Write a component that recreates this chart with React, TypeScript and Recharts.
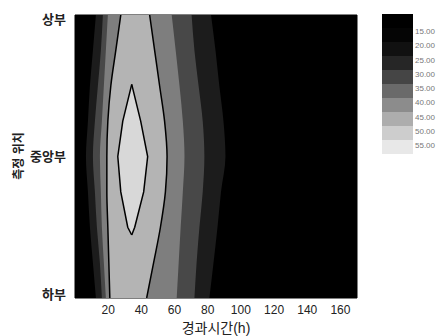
import React from 'react';
import { ComposedChart, Area, XAxis, YAxis, CartesianGrid } from 'recharts';

// measurement position (0 = bottom, 2 = top), rows from top to bottom
const POS = [2, 1.75, 1.5, 1.25, 1, 0.75, 0.5, 0.25, 0];
const POS_TICKS = [0, 1, 2];
const POS_LABELS = ['하부', '중앙부', '상부'];
const TIME_TICKS = [20, 40, 60, 80, 100, 120, 140, 160];

// contour band edges (elapsed time, h) per row
const BAND20_L = [12.6, 10.8, 9.0, 7.8, 6.6, 7.8, 9.0, 10.8, 12.6];
const BAND20_R = [82, 84.7, 87, 89.5, 90.7, 88, 85.9, 83.5, 81];
const BAND25_L = [16.8, 15.6, 13.8, 12.0, 10.8, 12.0, 13.2, 15.0, 16.2];
const BAND25_R = [70.3, 72, 74.5, 77, 78, 77, 75, 73.3, 72];
const BAND35_L = [19.8, 18.6, 17.4, 16.2, 15.0, 15.6, 16.2, 17.4, 18.6];
const BAND35_R = [58.3, 60.7, 63, 65, 66, 65, 63.7, 62.5, 61.3];
const BAND45_L = [27.6, 24.6, 21.6, 19.8, 19.2, 19.2, 19.8, 20.4, 21];
const BAND45_R = [45, 48, 51, 54, 55.5, 54.5, 51.5, 47.4, 43.2];

// inner (hottest) contour
const CORE_POS = [1.51, 1.25, 1.0, 0.75, 0.5, 0.445];
const CORE_L = [34.2, 28.8, 25.8, 27.6, 31.8, 34.2];
const CORE_R = [34.2, 39.6, 43.8, 41.4, 36, 34.2];

// colour bar
const LEGEND_VALUES = ['15.00', '20.00', '25.00', '30.00', '35.00', '40.00', '45.00', '50.00', '55.00'];
const LEGEND_COLORS = ['#000', '#050505', '#111', '#262626', '#454545', '#6a6a6a', '#8c8c8c', '#adadad', '#cdcdcd', '#e8e8e8'];

const band = (ls: number[], rs: number[], ps: number[] = POS) =>
  ps.map((p, i) => ({ pos: p, v: [ls[i], rs[i]] }));

const FONT = '"Liberation Sans", "Noto Sans CJK KR", sans-serif';

const YLabel = () => (
  <text
    transform="translate(19,156) rotate(-90)"
    textAnchor="middle"
    dominantBaseline="central"
    fontSize={12}
    fontWeight="bold"
    fill="#222"
    fontFamily={FONT}
  >
    측정 위치
  </text>
);

// nudge the end labels slightly inward like the original
const PosTick = (props: any) => {
  const { x, y, payload } = props;
  const v = payload.value;
  const dy = v === 2 ? 4 : v === 0 ? -4 : 0;
  return (
    <text x={x} y={y + dy} textAnchor="end" dominantBaseline="central" fontSize={13} fontWeight="bold" fill="#222" fontFamily={FONT}>
      {POS_LABELS[POS_TICKS.indexOf(v)]}
    </text>
  );
};

export default function App() {
  return (
    <div style={{ position: 'absolute', left: 0, top: 0, width: 439, height: 336, background: '#fff' }}>
      <ComposedChart
        width={439}
        height={336}
        layout="vertical"
        margin={{ top: 15, right: 82, bottom: 0, left: 0 }}
        style={{ fontFamily: FONT }}
      >
        <CartesianGrid fill="#000" stroke="#000" />
        <XAxis
          type="number"
          dataKey="v"
          domain={[0, 170]}
          ticks={TIME_TICKS}
          allowDataOverflow
          height={38}
          tickLine={false}
          axisLine={false}
          tickSize={0}
          tickMargin={7}
          tick={{ fill: '#222', fontSize: 12 }}
          label={{ value: '경과시간(h)', position: 'insideBottom', offset: 3, fontSize: 14, fill: '#222' }}
        />
        <YAxis
          type="number"
          dataKey="pos"
          domain={[0, 2]}
          ticks={POS_TICKS}
          reversed
          allowDataOverflow
          width={75}
          tickLine={false}
          axisLine={false}
          tickSize={0}
          tickMargin={9}
          tick={<PosTick />}
          label={() => <YLabel />}
        />
        <Area data={band(BAND20_L, BAND20_R)} dataKey="v" type="monotone" fill="#1c1c1c" fillOpacity={1} stroke="none" isAnimationActive={false} />
        <Area data={band(BAND25_L, BAND25_R)} dataKey="v" type="monotone" fill="#484848" fillOpacity={1} stroke="none" isAnimationActive={false} />
        <Area data={band(BAND35_L, BAND35_R)} dataKey="v" type="monotone" fill="#7e7e7e" fillOpacity={1} stroke="none" isAnimationActive={false} />
        <Area data={band(BAND45_L, BAND45_R)} dataKey="v" type="monotone" fill="#b4b4b4" fillOpacity={1} stroke="#000" strokeWidth={1.5} isAnimationActive={false} />
        <Area data={band(CORE_L, CORE_R, CORE_POS)} dataKey="v" type="linear" fill="#d8d8d8" fillOpacity={1} stroke="#000" strokeWidth={1.5} isAnimationActive={false} />
      </ComposedChart>

      <div style={{ position: 'absolute', left: 382, top: 14, width: 31 }}>
        {LEGEND_COLORS.map((c, i) => (
          <div key={i} style={{ height: 14, background: c }} />
        ))}
      </div>
      {LEGEND_VALUES.map((t, i) => (
        <div
          key={t}
          style={{
            position: 'absolute',
            left: 415,
            top: 32 + i * 14.25 - 5,
            fontSize: 8,
            lineHeight: '10px',
            color: '#777',
            fontFamily: FONT,
          }}
        >
          {t}
        </div>
      ))}
    </div>
  );
}
